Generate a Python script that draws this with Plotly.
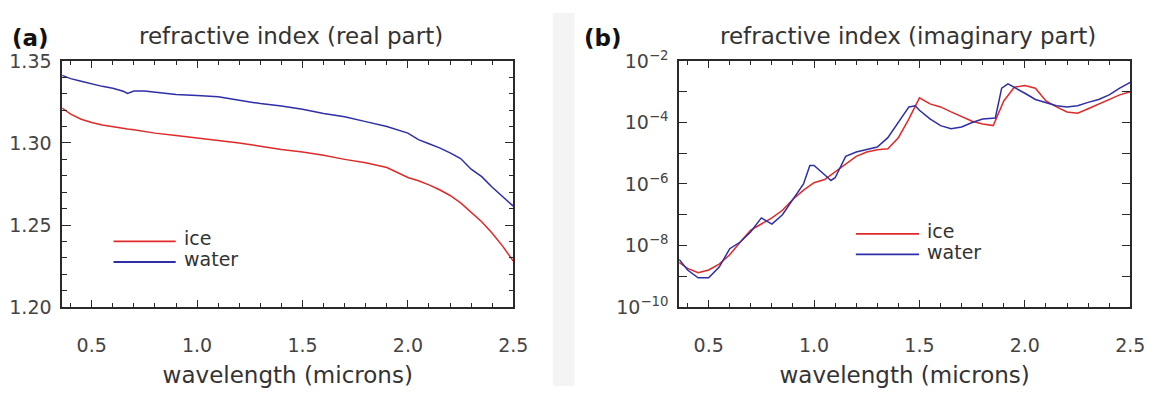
import plotly.graph_objects as go

W, H = 1165, 397

# ---------------- data: panel (a) real part ----------------
wl_real = [0.36, 0.40, 0.45, 0.50, 0.55, 0.60, 0.65, 0.67, 0.70, 0.75, 0.80, 0.90,
           1.00, 1.10, 1.20, 1.30, 1.40, 1.50, 1.60, 1.70, 1.80, 1.90, 2.00, 2.05,
           2.10, 2.15, 2.20, 2.25, 2.30, 2.35, 2.40, 2.45, 2.50]
water_real = [1.3412, 1.3392, 1.3376, 1.3360, 1.3345, 1.3333, 1.3315, 1.3302, 1.3316,
              1.3316, 1.3310, 1.3295, 1.3290, 1.3282, 1.3260, 1.3240, 1.3225, 1.3205,
              1.3180, 1.3160, 1.3130, 1.3100, 1.3060, 1.3020, 1.2995, 1.2970, 1.2940,
              1.2905, 1.2840, 1.2795, 1.2730, 1.2675, 1.2615]
ice_real = [1.3213, 1.3176, 1.3145, 1.3125, 1.3110, 1.3098, 1.3088, 1.3085, 1.3080,
            1.3070, 1.3060, 1.3045, 1.3030, 1.3015, 1.3000, 1.2980, 1.2960, 1.2945,
            1.2925, 1.2900, 1.2880, 1.2850, 1.2790, 1.2770, 1.2745, 1.2715, 1.2680,
            1.2635, 1.2580, 1.2520, 1.2450, 1.2370, 1.2280]

# ---------------- data: panel (b) imaginary part ----------------
wl_water_imag = [0.36, 0.40, 0.45, 0.50, 0.55, 0.60, 0.65, 0.70, 0.75, 0.80, 0.85, 0.90,
                 0.95, 0.98, 1.00, 1.05, 1.08, 1.10, 1.15, 1.20, 1.25, 1.30, 1.35, 1.40,
                 1.45, 1.48, 1.50, 1.55, 1.60, 1.65, 1.70, 1.75, 1.80, 1.86, 1.89, 1.92,
                 1.96, 2.00, 2.05, 2.10, 2.15, 2.20, 2.25, 2.30, 2.35, 2.40, 2.45, 2.50]
water_imag = [3.5e-9, 1.6e-9, 8.9e-10, 8.9e-10, 2.0e-9, 7.9e-9, 1.3e-8, 2.8e-8, 7.9e-8,
              5.0e-8, 1.0e-7, 3.2e-7, 1.0e-6, 4.0e-6, 4.0e-6, 2.0e-6, 1.3e-6, 1.6e-6,
              7.9e-6, 1.1e-5, 1.3e-5, 1.6e-5, 3.2e-5, 1.0e-4, 3.2e-4, 3.5e-4, 2.5e-4,
              1.3e-4, 7.9e-5, 6.3e-5, 7.1e-5, 1.0e-4, 1.3e-4, 1.4e-4, 1.3e-3, 1.8e-3,
              1.3e-3, 8.9e-4, 5.6e-4, 4.5e-4, 3.5e-4, 3.2e-4, 3.5e-4, 4.5e-4, 5.6e-4,
              7.9e-4, 1.3e-3, 2.0e-3]
wl_ice_imag = [0.36, 0.40, 0.45, 0.50, 0.55, 0.60, 0.65, 0.70, 0.75, 0.80, 0.85, 0.90,
               0.95, 1.00, 1.05, 1.10, 1.15, 1.20, 1.25, 1.30, 1.35, 1.40, 1.45, 1.50,
               1.55, 1.60, 1.65, 1.70, 1.75, 1.80, 1.85, 1.90, 1.95, 2.00, 2.05, 2.10,
               2.15, 2.20, 2.25, 2.30, 2.35, 2.40, 2.45, 2.50]
ice_imag = [2.8e-9, 1.8e-9, 1.3e-9, 1.6e-9, 2.5e-9, 5.0e-9, 1.3e-8, 3.2e-8, 5.0e-8,
            7.9e-8, 1.4e-7, 3.2e-7, 6.3e-7, 1.1e-6, 1.4e-6, 2.5e-6, 4.5e-6, 7.9e-6,
            1.1e-5, 1.3e-5, 1.4e-5, 3.2e-5, 1.3e-4, 6.3e-4, 4.0e-4, 3.2e-4, 2.2e-4,
            1.6e-4, 1.1e-4, 8.9e-5, 7.9e-5, 5.0e-4, 1.4e-3, 1.6e-3, 1.3e-3, 5.0e-4,
            3.2e-4, 2.2e-4, 2.0e-4, 2.8e-4, 4.0e-4, 5.6e-4, 7.9e-4, 1.0e-3]

series_names = ["ice", "water"]
real_ticks = [1.20, 1.25, 1.30, 1.35]
imag_ticks = [1e-10, 1e-8, 1e-6, 1e-4, 1e-2]
imag_ticktext = ["10<sup>−10</sup>", "10<sup>−8</sup>", "10<sup>−6</sup>",
                 "10<sup>−4</sup>", "10<sup>−2</sup>"]
imag_minor = [1e-9, 1e-7, 1e-5, 1e-3]

RED = "#e02a2a"
BLUE = "#2e2ea8"
AX = "#2a2a2a"
TXT = "#333333"
FONT = "DejaVu Sans"


def px(x):
    return x / W


def py(y):
    return 1 - y / H


fig = go.Figure()
fig.add_trace(go.Scatter(x=wl_real, y=ice_real, mode="lines", name="ice",
                         line=dict(color=RED, width=1.5), xaxis="x", yaxis="y",
                         showlegend=False))
fig.add_trace(go.Scatter(x=wl_real, y=water_real, mode="lines", name="water",
                         line=dict(color=BLUE, width=1.5), xaxis="x", yaxis="y",
                         showlegend=False))
fig.add_trace(go.Scatter(x=wl_ice_imag, y=ice_imag, mode="lines", name="ice",
                         line=dict(color=RED, width=1.5), xaxis="x2", yaxis="y2",
                         showlegend=False))
fig.add_trace(go.Scatter(x=wl_water_imag, y=water_imag, mode="lines", name="water",
                         line=dict(color=BLUE, width=1.5), xaxis="x2", yaxis="y2",
                         showlegend=False))

# plot boxes in pixels
LA = (63, 520)
RA = (688, 1145)
TOP, BOT = 51, 313

xcommon = dict(range=[0.36, 2.5], tick0=0.5, dtick=0.5, ticks="inside", ticklen=7,
               tickwidth=1.2, tickcolor=AX, showline=True, linecolor=AX, linewidth=1.6,
               mirror="ticks", showgrid=False, zeroline=False, tickformat=".1f",
               tickfont=dict(family=FONT, size=19, color="#444444"),
               ticklabelstandoff=20,
               minor=dict(dtick=0.1, tick0=0.5, ticks="inside", ticklen=4,
                          tickcolor=AX, tickwidth=1.2, showgrid=False),
               title=dict(text="wavelength (microns)",
                          font=dict(family=FONT, size=23, color=TXT), standoff=12))

fig.update_layout(
    width=W, height=H,
    margin=dict(l=0, r=0, t=0, b=0),
    paper_bgcolor="white", plot_bgcolor="white",
    xaxis=dict(domain=[px(LA[0]), px(LA[1])], anchor="y", **xcommon),
    yaxis=dict(domain=[py(BOT), py(TOP)], anchor="x", range=[1.20, 1.35],
               tickvals=real_ticks, tickformat=".2f", ticks="inside", ticklen=9,
               tickwidth=1.2, tickcolor=AX, showline=True, linecolor=AX,
               linewidth=1.6, mirror="ticks", showgrid=False, zeroline=False,
               tickfont=dict(family=FONT, size=19, color="#444444"),
               ticklabelstandoff=5,
               minor=dict(dtick=0.01, tick0=1.20, ticks="inside", ticklen=5,
                          tickcolor=AX, tickwidth=1.2, showgrid=False)),
    xaxis2=dict(domain=[px(RA[0]), px(RA[1])], anchor="y2", **xcommon),
    yaxis2=dict(domain=[py(BOT), py(TOP)], anchor="x2", type="log", range=[-10, -2],
                tickvals=imag_ticks, ticktext=imag_ticktext, ticks="inside", ticklen=8,
                tickwidth=1.2, tickcolor=AX, showline=True, linecolor=AX,
                linewidth=1.6, mirror="ticks", showgrid=False, zeroline=False,
                tickfont=dict(family=FONT, size=19, color="#444444"),
                ticklabelstandoff=5,
                minor=dict(tickvals=imag_minor, ticks="inside", ticklen=8,
                           tickcolor=AX, tickwidth=1.2, showgrid=False)),
)

shapes = []
annotations = []

# light divider strip between the two panels
shapes.append(dict(type="rect", xref="paper", yref="paper", x0=px(560), x1=px(582),
                   y0=0, y1=1, fillcolor="#f4f4f4", line=dict(width=0), layer="below"))

# panel titles and letters
annotations += [
    dict(text="(a)", x=px(31), y=py(27), xref="paper", yref="paper", showarrow=False,
         font=dict(family=FONT, size=23, color="#111111", weight="bold"),
         xanchor="center", yanchor="middle"),
    dict(text="refractive index (real part)", x=px(295), y=py(25), xref="paper",
         yref="paper", showarrow=False, font=dict(family=FONT, size=23, color=TXT),
         xanchor="center", yanchor="middle"),
    dict(text="(b)", x=px(611), y=py(27), xref="paper", yref="paper", showarrow=False,
         font=dict(family=FONT, size=23, color="#111111", weight="bold"),
         xanchor="center", yanchor="middle"),
    dict(text="refractive index (imaginary part)", x=px(920), y=py(25), xref="paper",
         yref="paper", showarrow=False, font=dict(family=FONT, size=23, color=TXT),
         xanchor="center", yanchor="middle"),
]


# legends (line samples + labels)
def legend(x0, x1, ys, colors, names):
    for y, c, n in zip(ys, colors, names):
        shapes.append(dict(type="line", xref="paper", yref="paper", x0=px(x0), x1=px(x1),
                           y0=py(y), y1=py(y), line=dict(color=c, width=1.8)))
        annotations.append(dict(text=n, x=px(x1 + 6), y=py(y - 3), xref="paper",
                                yref="paper", showarrow=False, xanchor="left",
                                yanchor="middle",
                                font=dict(family=FONT, size=19, color=TXT)))


legend(115, 178, [243, 265], [RED, BLUE], series_names)
legend(867, 931, [235, 257], [RED, BLUE], series_names)

fig.update_layout(shapes=shapes, annotations=annotations)
fig.write_html("out.html")
